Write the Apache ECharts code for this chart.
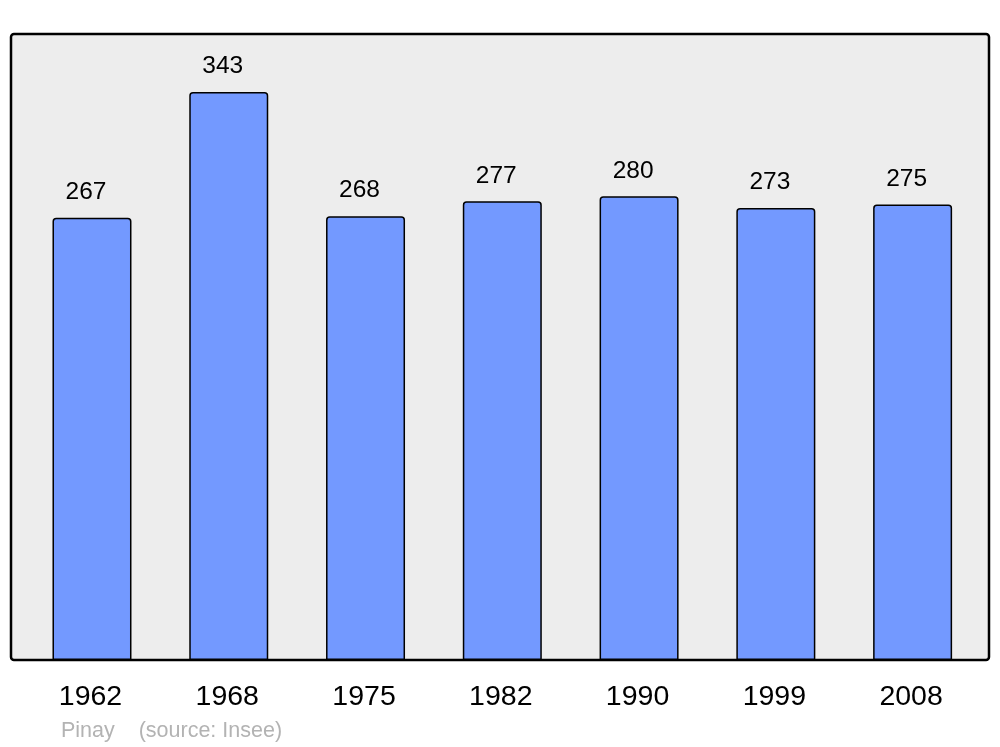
<!DOCTYPE html>
<html>
<head>
<meta charset="utf-8">
<script src="https://cdn.jsdelivr.net/npm/echarts@6/dist/echarts.min.js"></script>
<style>
  html, body { margin: 0; padding: 0; background: #fff; }
  #chart { width: 1000px; height: 747px; }
</style>
</head>
<body>
<div id="chart"></div>
<script>
const years = ['1962', '1968', '1975', '1982', '1990', '1999', '2008']
const population = [267, 343, 268, 277, 280, 273, 275]

const myChart = echarts.init(document.getElementById('chart'))
const option = {
  backgroundColor: '#ffffff',
  textStyle: { fontFamily: 'Liberation Sans, Arial, sans-serif' },
  graphic: [
    {
      type: 'rect',
      z: -10,
      shape: { x: 11, y: 34, width: 978, height: 626, r: 3 },
      style: { fill: '#ededed', stroke: '#000', lineWidth: 2.5 }
    },
    {
      type: 'text',
      left: 61,
      top: 720,
      style: {
        text: 'Pinay    (source: Insee)',
        fill: '#b3b3b3',
        fontSize: 21.5,
        fontFamily: 'Liberation Sans, Arial, sans-serif'
      }
    }
  ],
  grid: {
    left: 23.6,
    right: 19,
    top: 34,
    bottom: 87,
    containLabel: false
  },
  xAxis: {
    type: 'category',
    data: years,
    axisLine: { show: false },
    axisTick: { show: false },
    axisLabel: {
      color: '#000',
      fontSize: 28.5,
      margin: 23,
      padding: [0, 3, 0, 0]
    }
  },
  yAxis: {
    type: 'value',
    min: 0,
    max: 378,
    show: false,
    splitLine: { show: false }
  },
  series: [
    {
      type: 'bar',
      data: population,
      barWidth: 79,
      itemStyle: {
        color: '#7399ff',
        borderColor: '#000',
        borderWidth: 1.5,
        borderRadius: [3, 3, 0, 0]
      },
      label: {
        show: true,
        position: 'top',
        distance: 13,
        offset: [-6, 0],
        color: '#000',
        fontSize: 24.5
      }
    }
  ]
}
myChart.setOption(option)
</script>
</body>
</html>
